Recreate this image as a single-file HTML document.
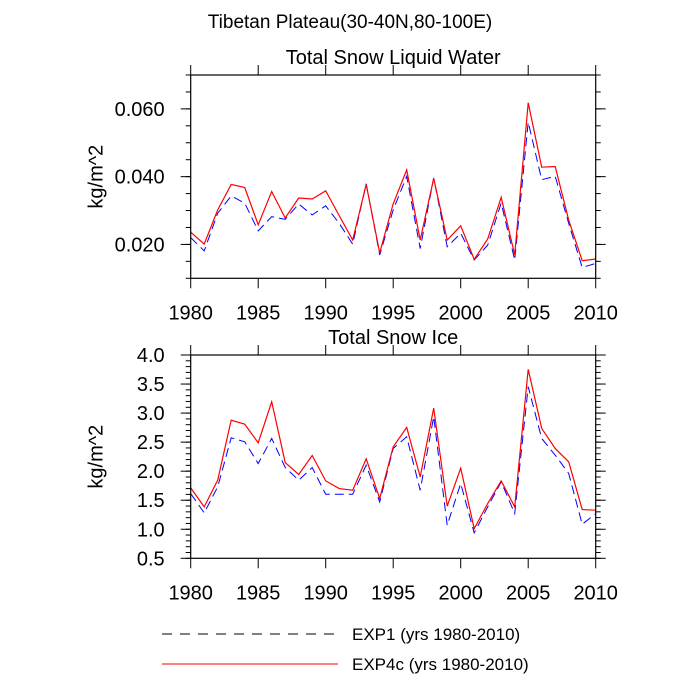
<!DOCTYPE html>
<html><head><meta charset="utf-8"><style>
body{margin:0;background:#fff}
svg{display:block;font-family:"Liberation Sans",sans-serif}
</style></head><body>
<svg id="chart" width="700" height="700" viewBox="0 0 700 700"></svg>
<script>
const years = [1980,1981,1982,1983,1984,1985,1986,1987,1988,1989,1990,1991,1992,1993,1994,1995,1996,1997,1998,1999,2000,2001,2002,2003,2004,2005,2006,2007,2008,2009,2010];
const liqExp4c = [0.0236,0.0201,0.0302,0.0377,0.0368,0.0258,0.0356,0.0278,0.0337,0.0334,0.0358,0.0285,0.0213,0.0377,0.0175,0.0320,0.0420,0.0213,0.0395,0.0213,0.0255,0.0156,0.0216,0.0339,0.0169,0.0618,0.0428,0.0430,0.0272,0.0152,0.0157];
const liqExp1 = [0.0220,0.0181,0.0292,0.0343,0.0322,0.0240,0.0282,0.0274,0.0319,0.0287,0.0314,0.0262,0.0201,0.0379,0.0169,0.0302,0.0401,0.0188,0.0396,0.0193,0.0233,0.0154,0.0198,0.0322,0.0154,0.0561,0.0391,0.0401,0.0262,0.0132,0.0144];
const iceExp4c = [1.713,1.385,1.845,2.879,2.810,2.489,3.195,2.149,1.943,2.270,1.833,1.701,1.672,2.213,1.529,2.420,2.753,1.902,3.086,1.397,2.052,1.011,1.443,1.833,1.385,3.753,2.736,2.391,2.161,1.339,1.328];
const iceExp1 = [1.615,1.282,1.730,2.575,2.506,2.132,2.563,2.063,1.845,2.063,1.603,1.603,1.603,2.103,1.471,2.391,2.592,1.672,2.937,1.069,1.787,0.937,1.385,1.816,1.270,3.454,2.563,2.276,1.960,1.086,1.270];
const xTicks = [1980,1985,1990,1995,2000,2005,2010];
const liqTicks = [0.020,0.040,0.060];
const liqTickLabels = ["0.020","0.040","0.060"];
const iceTicks = [0.5,1.0,1.5,2.0,2.5,3.0,3.5,4.0];
const iceTickLabels = ["0.5","1.0","1.5","2.0","2.5","3.0","3.5","4.0"];

const NS="http://www.w3.org/2000/svg";
const svg=document.getElementById('chart');
function mk(tag,attrs,parent){const e=document.createElementNS(NS,tag);for(const k in attrs)e.setAttribute(k,attrs[k]);(parent||svg).appendChild(e);return e;}

const L=190.7,R=595.7;
function panel(name,top,bot,ymin,ymax,minorStep,yt,ytl,title,s1,s2){
  const g=mk('g',{});
  
  
  const xs=v=>L+(v-1980)/30*(R-L);
  const ys=v=>bot-(v-ymin)/(ymax-ymin)*(bot-top);
  const t=mk('text',{x:(L+R)/2,y:top-11,'text-anchor':'middle','font-size':20},g);
  t.textContent=title;
  
  
  const n=Math.round((ymax-ymin)/minorStep);
  for(let i=0;i<=n;i++){const y=ys(ymin+i*minorStep);
    mk('line',{x1:L-5,x2:L,y1:y,y2:y,stroke:'#000','stroke-width':1},g);
    mk('line',{x1:R,x2:R+5,y1:y,y2:y,stroke:'#000','stroke-width':1},g);}
  yt.forEach((v,i)=>{const y=ys(v);
    mk('line',{x1:L-10,x2:L,y1:y,y2:y,stroke:'#000','stroke-width':1},g);
    mk('line',{x1:R,x2:R+10,y1:y,y2:y,stroke:'#000','stroke-width':1},g);
    const lb=mk('text',{x:L-26,y:y+7,'text-anchor':'end','font-size':20},g);
    lb.textContent=ytl[i];
    
    });
  xTicks.forEach(v=>{const x=xs(v);
    mk('line',{x1:x,x2:x,y1:bot,y2:bot+10,stroke:'#000','stroke-width':1},g);
    mk('line',{x1:x,x2:x,y1:top-10,y2:top,stroke:'#000','stroke-width':1},g);
    const lb=mk('text',{x:x,y:bot+41,'text-anchor':'middle','font-size':20},g);
    lb.textContent=v;
    
    });
  const yl=mk('text',{x:0,y:0,'text-anchor':'middle','font-size':20,transform:`translate(${L-88},${(top+bot)/2}) rotate(-90)`},g);
  yl.textContent='kg/m^2';
  
  
  const p1=mk('polyline',{points:s1.map((v,i)=>xs(years[i])+','+ys(v)).join(' '),fill:'none',stroke:'#0000ff','stroke-width':1,'stroke-dasharray':'9,5'},g);
  
  
  const p2=mk('polyline',{points:s2.map((v,i)=>xs(years[i])+','+ys(v)).join(' '),fill:'none',stroke:'#ff0000','stroke-width':1.2},g);
  
  
  const b=mk('rect',{x:L,y:top,width:R-L,height:bot-top,fill:'none',stroke:'#000','stroke-width':1.2},g);
  
  
}
const mt=mk('text',{x:350,y:28,'text-anchor':'middle','font-size':19});
mt.textContent='Tibetan Plateau(30-40N,80-100E)';


panel('liquid-water-panel',75,278.3,0.01,0.07,0.005,liqTicks,liqTickLabels,'Total Snow Liquid Water',liqExp1,liqExp4c);
panel('snow-ice-panel',355,558.3,0.5,4.0,0.1,iceTicks,iceTickLabels,'Total Snow Ice',iceExp1,iceExp4c);
const lg=mk('g',{});


mk('line',{x1:162,x2:338,y1:634,y2:634,stroke:'#000','stroke-width':1,'stroke-dasharray':'10,8'},lg);
mk('line',{x1:162,x2:338,y1:664,y2:664,stroke:'#ff0000','stroke-width':1},lg);
const t1=mk('text',{x:352,y:640,'font-size':17},lg);t1.textContent='EXP1 (yrs 1980-2010)';


const t2=mk('text',{x:352,y:670,'font-size':17},lg);t2.textContent='EXP4c (yrs 1980-2010)';


</script>
</body></html>
